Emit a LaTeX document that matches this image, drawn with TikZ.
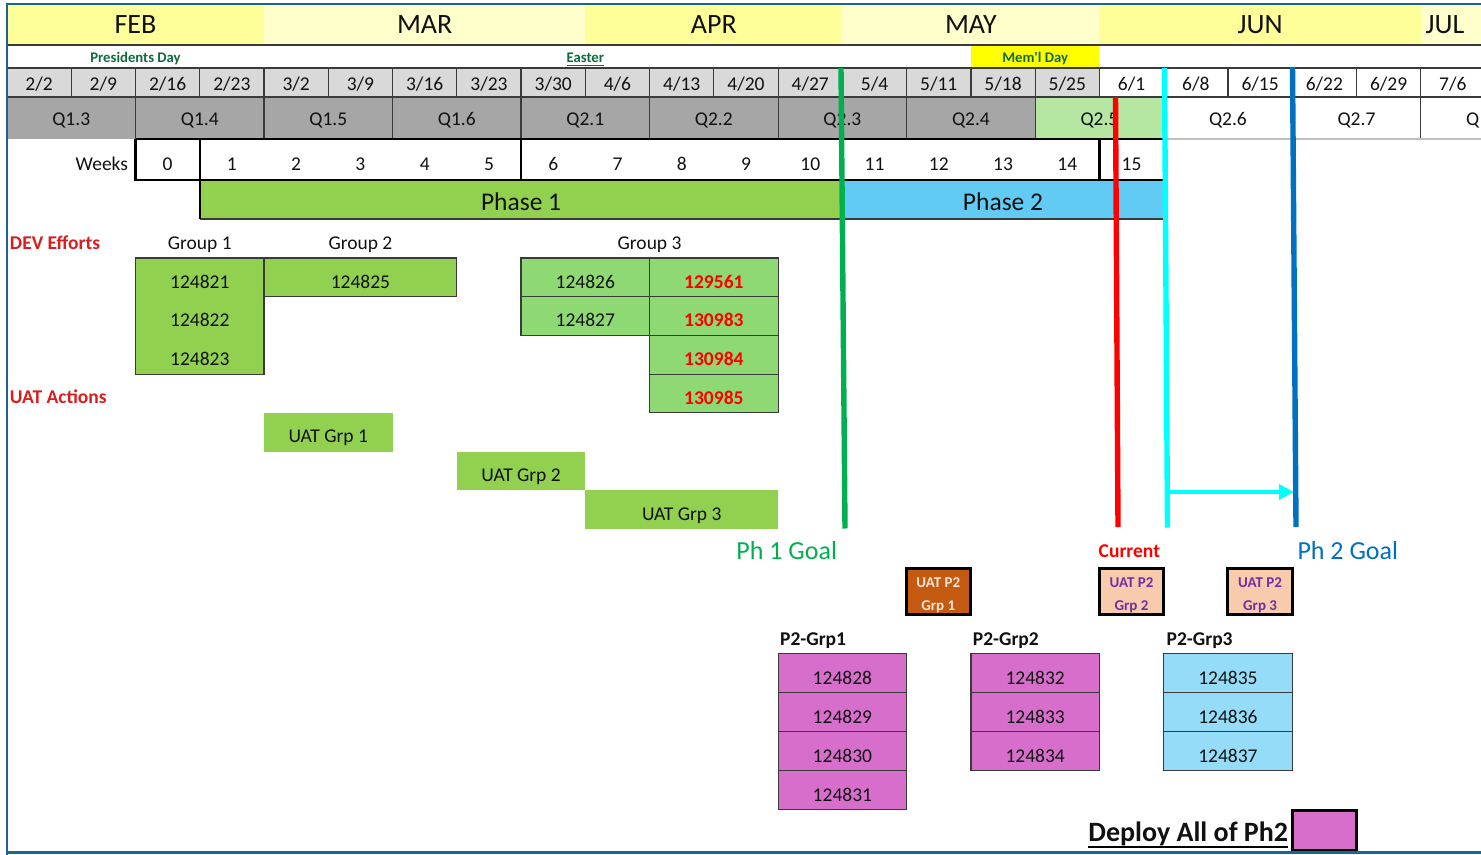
\documentclass[tikz,border=0pt]{standalone}
\usepackage{fontspec}
\setmainfont{Carlito}
\usetikzlibrary{arrows.meta}
\definecolor{mYel}{HTML}{FFFF99}
\definecolor{mPale}{HTML}{FFFFCC}
\definecolor{dGray}{HTML}{D9D9D9}
\definecolor{qGray}{HTML}{A6A6A6}
\definecolor{qGreen}{HTML}{B5E6A2}
\definecolor{phGreen}{HTML}{92D050}
\definecolor{phBlue}{HTML}{61CBF3}
\definecolor{gThree}{HTML}{8ED973}
\definecolor{pkFill}{HTML}{D86ECC}
\definecolor{ltBlue}{HTML}{94DCF8}
\definecolor{uatOne}{HTML}{C55A11}
\definecolor{uatOneTxt}{HTML}{FCE4D6}
\definecolor{uatTwo}{HTML}{F8CBAD}
\definecolor{purp}{HTML}{7030A0}
\definecolor{holG}{HTML}{0E6B3C}
\definecolor{memYel}{HTML}{FFFF00}
\definecolor{redL}{HTML}{FF0000}
\definecolor{devRed}{HTML}{D81E1E}
\definecolor{goalGreen}{HTML}{00B050}
\definecolor{goalBlue}{HTML}{0070C0}
\definecolor{cyanL}{HTML}{00FFFF}
\definecolor{frameC}{HTML}{1F6391}
\definecolor{gridC}{HTML}{3A3A3A}
\definecolor{lgrid}{HTML}{BFBFBF}
\definecolor{txtC}{HTML}{111111}
\newcommand\CX[1]{(7+64.26*(#1))}
\begin{document}
\begin{tikzpicture}[x=0.5pt,y=-0.5pt,
 lbl/.style={inner sep=0pt,outer sep=0pt,anchor=base,text=txtC},
 norm/.style={lbl,font=\fontsize{9.75}{12}\selectfont},
 bnorm/.style={lbl,font=\fontsize{9.75}{12}\selectfont\bfseries},
 mon/.style={lbl,font=\fontsize{14}{16}\selectfont},
 phs/.style={lbl,font=\fontsize{12.75}{15}\selectfont},
 hol/.style={lbl,font=\fontsize{7.35}{9}\selectfont\bfseries,text=holG},
 uatt/.style={lbl,font=\fontsize{7.5}{9}\selectfont\bfseries},
 goal/.style={lbl,font=\fontsize{13}{15}\selectfont},
 grid/.style={draw=gridC,line width=0.6pt},
 thickb/.style={draw=black,line width=1.1pt},
 gcell/.style={grid,fill=phGreen},
 g3cell/.style={grid,fill=gThree},
 pcell/.style={grid,fill=pkFill},
 bcell/.style={grid,fill=ltBlue},
 uatbox/.style={draw=black,line width=1.5pt},
 vline/.style={line width=2.7pt}
]
\useasboundingbox (0,0) rectangle (1481,855);
\clip (0,0) rectangle (1481,855);
% ---------- month row
\fill[mYel]  ({\CX{0}},4) rectangle ({\CX{4}},45);
\fill[mPale] ({\CX{4}},4) rectangle ({\CX{9}},45);
\fill[mYel]  ({\CX{9}},4) rectangle ({\CX{13}},45);
\fill[mPale] ({\CX{13}},4) rectangle ({\CX{17}},45);
\fill[mYel]  ({\CX{17}},4) rectangle ({\CX{22}},45);
\fill[mPale] ({\CX{22}},4) rectangle (1481,45);
\draw[gridC,line width=0.6pt] ({\CX{0}},45) -- (1481,45);
\node[mon] (feb) at ({\CX{2}},34) {FEB};
\node[mon] (mar) at ({\CX{6.5}},34) {MAR};
\node[mon] (apr) at ({\CX{11}},34) {APR};
\node[mon] (may) at ({\CX{15}},34) {MAY};
\node[mon] (jun) at ({\CX{19.5}},34) {JUN};
\node[mon] (jul) at (1445,34) {JUL};
% ---------- holiday row
\fill[memYel] ({\CX{15}},46) rectangle ({\CX{17}},68);
\node[hol] (pres) at ({\CX{2}},62.3) {Presidents Day};
\node[hol] (easter) at ({\CX{9}},62.3) {\underline{Easter}};
\node[hol] (meml) at ({\CX{16}},62.3) {\underline{Mem\textquotesingle l Day}};
% ---------- date row
\foreach \dt [count=\i from 0] in {2/2,2/9,2/16,2/23,3/2,3/9,3/16,3/23,3/30,4/6,4/13,4/20,4/27,5/4,5/11,5/18,5/25,6/1,6/8,6/15,6/22,6/29,7/6} {
  \pgfmathsetmacro\xa{7+64.26*\i}
  \pgfmathsetmacro\xb{\xa+64.26}
  \ifnum\i<17 \def\fc{dGray}\else\def\fc{white}\fi
  \path[grid,fill=\fc] (\xa,68) rectangle (\xb,97);
  \node[norm] (dt\i) at ({(\xa+\xb)/2},90.5) {\dt};
}
% ---------- Q row
\foreach \s/\t/\f in {0/Q1.3/qGray,2/Q1.4/qGray,4/Q1.5/qGray,6/Q1.6/qGray,8/Q2.1/qGray,10/Q2.2/qGray,12/Q2.3/qGray,14/Q2.4/qGray,16/Q2.5/qGreen,18/Q2.6/white,20/Q2.7/white} {
  \fill[\f] ({\CX{\s}},97) rectangle ({\CX{\s+2}},139);
  \node[norm] (q\s) at ({\CX{\s+1}},125.5) {\t};
}
\node[norm,anchor=base west] (q22) at (1466,125.5) {Q};
\foreach \s in {2,4,...,22} {
  \draw[grid] ({\CX{\s}},97) -- ({\CX{\s}},139);
}
\draw[grid] ({\CX{0}},97) -- (1481,97);
\draw[lgrid,line width=0.8pt] ({\CX{18}},139) -- (1481,139);
% ---------- weeks row
\node[norm,anchor=base east] (weeks) at (128,170.5) {Weeks};
\foreach \w in {0,...,15} {
  \node[norm] (wk\w) at ({\CX{\w+2.5}},170.5) {\w};
}
% ---------- phase row
\fill[phGreen] ({\CX{3}},180) rectangle ({\CX{13}},219);
\fill[phBlue]  ({\CX{13}},180) rectangle ({\CX{18}},219);
\draw[gridC,line width=0.8pt] ({\CX{3}},219) -- ({\CX{18}},219);
\node[phs] (ph1) at ({\CX{8}},210.5) {Phase 1};
\node[phs] (ph2) at ({\CX{15.5}},210.5) {Phase 2};
% weeks box outline
\draw[thickb] ({\CX{2}},139) -- ({\CX{18}},139);
\draw[thickb] ({\CX{2}},139) -- ({\CX{2}},180) -- ({\CX{18}},180);
\draw[thickb] ({\CX{3}},139) -- ({\CX{3}},219);
\draw[thickb] ({\CX{8}},139) -- ({\CX{8}},180);
\draw[thickb] ({\CX{17}},139) -- ({\CX{17}},180);
\draw[thickb] ({\CX{18}},139) -- ({\CX{18}},219);
% ---------- DEV efforts
\node[bnorm,text=devRed,anchor=base west] (dev) at (10,249.3) {DEV Efforts};
\node[norm] (grp1) at ({\CX{3}},249.3) {Group 1};
\node[norm] (grp2) at ({\CX{5.5}},249.3) {Group 2};
\node[norm] (grp3) at ({\CX{10}},249.3) {Group 3};
\path[gcell] ({\CX{2}},258) rectangle ({\CX{4}},374.1);
\node[norm] (n124821) at ({\CX{3}},288.3) {124821};
\node[norm] (n124822) at ({\CX{3}},327) {124822};
\node[norm] (n124823) at ({\CX{3}},365.7) {124823};
\path[gcell] ({\CX{4}},258) rectangle ({\CX{7}},296.7);
\node[norm] (n124825) at ({\CX{5.5}},288.3) {124825};
\foreach \r/\t in {0/124826,1/124827} {
  \pgfmathsetmacro\yt{258+38.7*\r}
  \path[g3cell] ({\CX{8}},\yt) rectangle ({\CX{10}},\yt+38.7);
  \node[norm] (n\t) at ({\CX{9}},\yt+30.3) {\t};
}
\foreach \r/\t in {0/129561,1/130983,2/130984,3/130985} {
  \pgfmathsetmacro\yt{258+38.7*\r}
  \path[g3cell] ({\CX{10}},\yt) rectangle ({\CX{12}},\yt+38.7);
  \node[bnorm,text=redL] (n\t) at ({\CX{11}},\yt+30.3) {\t};
}
% ---------- UAT actions
\node[bnorm,text=devRed,anchor=base west] (uat) at (10,403.3) {UAT Actions};
\fill[phGreen] ({\CX{4}},412.8) rectangle ({\CX{6}},451.5);
\node[norm] (ug1) at ({\CX{5}},442.8) {UAT Grp 1};
\fill[phGreen] ({\CX{7}},451.5) rectangle ({\CX{9}},490.2);
\node[norm] (ug2) at ({\CX{8}},481.5) {UAT Grp 2};
\fill[phGreen] ({\CX{9}},490.2) rectangle ({\CX{12}},528.9);
\node[norm] (ug3) at ({\CX{10.5}},520.2) {UAT Grp 3};
% ---------- vertical markers
\coordinate (gT) at (841,68);   \coordinate (gB) at (845,528.5);
\coordinate (rT) at (1115.5,97); \coordinate (rB) at (1118,527);
\coordinate (cT) at (1164.5,68); \coordinate (cB) at (1167.5,527.5);
\coordinate (bT) at (1292.5,67); \coordinate (bB) at (1296,527);
\coordinate (aS) at (1167.5,492); \coordinate (aE) at (1294,492);
\draw[vline,goalGreen] (gT) -- (gB);
\draw[vline,redL] (rT) -- (rB);
\draw[vline,cyanL] (cT) -- (cB);
\draw[vline,goalBlue] (bT) -- (bB);
\draw[cyanL,line width=2pt,-{Triangle[length=7.6pt,width=7.5pt]}] (aS) -- (aE);
\node[goal,text=goalGreen,anchor=base east] (ph1goal) at (837,559.3) {Ph 1 Goal};
\node[bnorm,text=redL,anchor=base east] (current) at (1160,557.7) {Current};
\node[goal,text=goalBlue,anchor=base west] (ph2goal) at (1297.5,559.3) {Ph 2 Goal};
% ---------- UAT P2 boxes
\path[uatbox,fill=uatOne] (906,568.5) rectangle (970.7,614.5);
\node[uatt,text=uatOneTxt] (u1a) at (938.3,587.7) {UAT P2};
\node[uatt,text=uatOneTxt] (u1b) at (938.3,610.5) {Grp 1};
\path[uatbox,fill=uatTwo] ({\CX{17}},568.5) rectangle ({\CX{18}},614.5);
\node[uatt,text=purp] (u2a) at ({\CX{17.5}},587.7) {UAT P2};
\node[uatt,text=purp] (u2b) at ({\CX{17.5}},610.5) {Grp 2};
\path[uatbox,fill=uatTwo] ({\CX{19}},568.5) rectangle ({\CX{20}},614.5);
\node[uatt,text=purp] (u3a) at ({\CX{19.5}},587.7) {UAT P2};
\node[uatt,text=purp] (u3b) at ({\CX{19.5}},610.5) {Grp 3};
% ---------- P2 groups
\node[bnorm,anchor=base west] (p2g1) at ({\CX{12}+2},645) {P2-Grp1};
\node[bnorm,anchor=base west] (p2g2) at ({\CX{15}+2},645) {P2-Grp2};
\node[bnorm,anchor=base west] (p2g3) at ({\CX{18}+3},645) {P2-Grp3};
\foreach \r/\t in {0/124828,1/124829,2/124830,3/124831} {
  \pgfmathsetmacro\yt{653.5+38.9*\r}
  \path[pcell] ({\CX{12}},\yt) rectangle ({\CX{14}},\yt+38.9);
  \node[norm] (n\t) at ({\CX{13}},\yt+31) {\t};
}
\foreach \r/\t in {0/124832,1/124833,2/124834} {
  \pgfmathsetmacro\yt{653.5+38.9*\r}
  \path[pcell] ({\CX{15}},\yt) rectangle ({\CX{17}},\yt+38.9);
  \node[norm] (n\t) at ({\CX{16}},\yt+31) {\t};
}
\foreach \r/\t in {0/124835,1/124836,2/124837} {
  \pgfmathsetmacro\yt{653.5+38.9*\r}
  \path[bcell] ({\CX{18}},\yt) rectangle ({\CX{20}},\yt+38.9);
  \node[norm] (n\t) at ({\CX{19}},\yt+31) {\t};
}
% ---------- deploy legend
\node[lbl,font=\fontsize{14}{16}\selectfont\bfseries,anchor=base east] (deploy) at (1288,841) {Deploy All of Ph2};
\draw[black,line width=1pt] ([yshift=-2.9pt]deploy.base west) -- ([yshift=-2.9pt]deploy.base east);
\path[uatbox,fill=pkFill] ({\CX{20}},810.5) rectangle ({\CX{21}},850.5);
% ---------- frame
\draw[frameC,line width=0.9pt] (7,855) -- (7,4) -- (1481,4);
\draw[frameC,line width=1.1pt] (7,852.5) -- (1481,852.5);
\end{tikzpicture}
\end{document}
